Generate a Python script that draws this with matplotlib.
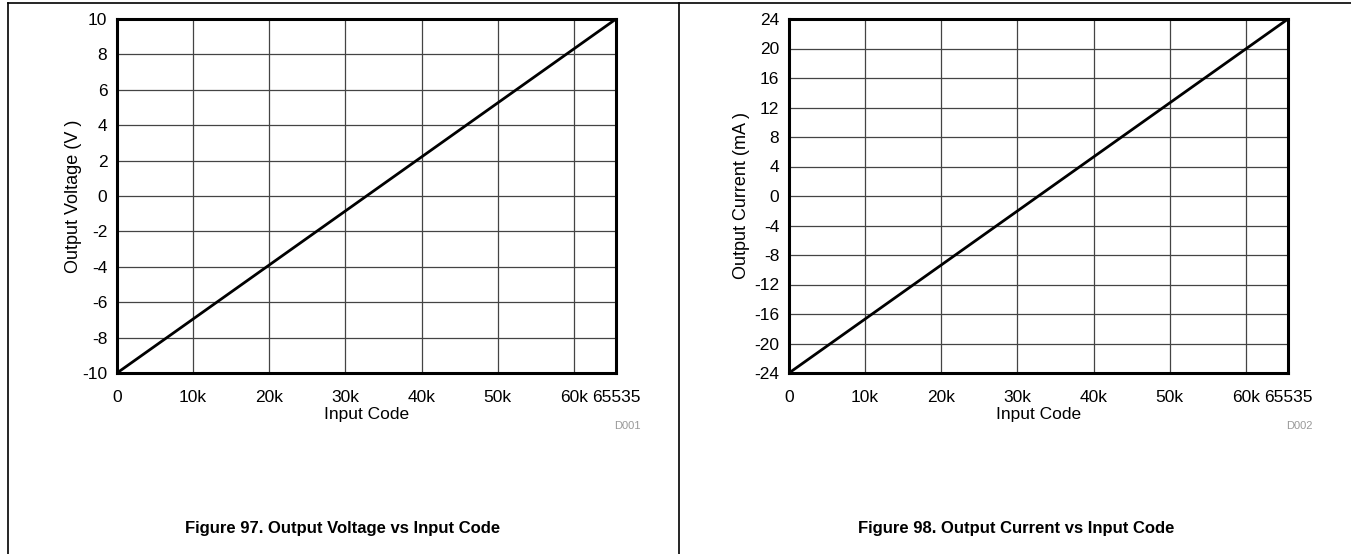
import matplotlib
matplotlib.use("Agg")
import matplotlib.pyplot as plt
from matplotlib.lines import Line2D

plt.rcParams['font.family'] = ['Liberation Sans', 'DejaVu Sans']

codes = [0, 65535]
voltage = [-10, 10]
current = [-24, 24]
x_ticks = [0, 10000, 20000, 30000, 40000, 50000, 60000, 65535]
x_tick_labels = ['0', '10k', '20k', '30k', '40k', '50k', '60k', '65535']
v_ticks = [-10, -8, -6, -4, -2, 0, 2, 4, 6, 8, 10]
i_ticks = [-24, -20, -16, -12, -8, -4, 0, 4, 8, 12, 16, 20, 24]

W, H = 1351, 554
fig = plt.figure(figsize=(W / 100, H / 100), dpi=100)

def box(x0, y0, x1, y1):
    return [x0 / W, 1 - y1 / H, (x1 - x0) / W, (y1 - y0) / H]

FS = 12.5

panels = [
    dict(rect=box(117, 19, 616, 373), y=voltage, yt=v_ticks, yl='Output Voltage (V )',
         code='D001', cap='Figure 97. Output Voltage vs Input Code', cx=343, lx=73),
    dict(rect=box(789, 19, 1288, 373), y=current, yt=i_ticks, yl='Output Current (mA )',
         code='D002', cap='Figure 98. Output Current vs Input Code', cx=1016, lx=742),
]

for p in panels:
    ax = fig.add_axes(p['rect'])
    ax.plot(codes, p['y'], color='black', lw=2.0, solid_capstyle='butt')
    ax.set_xlim(0, 65535)
    ax.set_ylim(p['yt'][0], p['yt'][-1])
    ax.set_xticks(x_ticks)
    ax.set_xticklabels(x_tick_labels, fontsize=FS)
    ax.set_yticks(p['yt'])
    ax.set_yticklabels([str(t) for t in p['yt']], fontsize=FS)
    ax.tick_params(axis='x', length=0, pad=12)
    ax.tick_params(axis='y', length=0, pad=7)
    ax.grid(True, color='#444444', lw=0.9)
    for s in ax.spines.values():
        s.set_linewidth(2.2)
    ax.set_axisbelow(True)
    ax.set_xlabel('Input Code', fontsize=FS, labelpad=2)
    fig.text(p['lx'] / W, 1 - 196 / H, p['yl'], rotation=90, ha='center', va='center', fontsize=13)
    fig.text((p['rect'][0] + p['rect'][2]) + 25 / W, 1 - 426 / H, p['code'], ha='right', va='center',
             fontsize=8, color='#999999')
    fig.text(p['cx'] / W, 1 - 528 / H, p['cap'], ha='center', va='center', fontsize=12, fontweight='bold')

# frame lines
fig.add_artist(Line2D([8 / W, 1], [1 - 3 / H, 1 - 3 / H], color='black', lw=1.2, transform=fig.transFigure))
fig.add_artist(Line2D([8 / W, 8 / W], [0, 1 - 3 / H], color='black', lw=1.2, transform=fig.transFigure))
fig.add_artist(Line2D([679 / W, 679 / W], [0, 1 - 3 / H], color='black', lw=1.2, transform=fig.transFigure))

fig.savefig('out.png', dpi=100)
